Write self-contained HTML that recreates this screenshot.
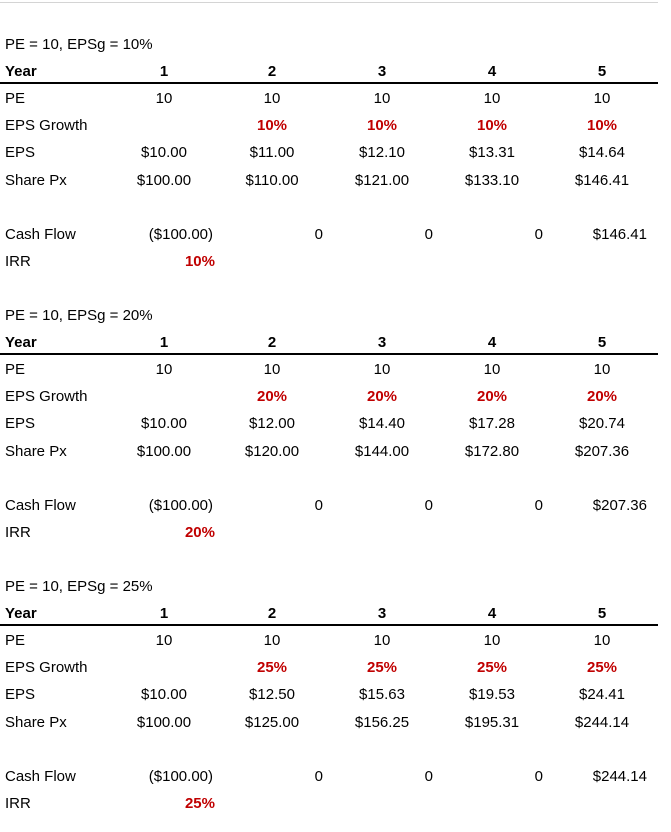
<!DOCTYPE html>
<html><head><meta charset="utf-8"><style>
body{margin:0;width:671px;height:832px;background:#fff;position:relative;overflow:hidden;font-family:"Liberation Sans",sans-serif;font-size:15px;color:#000}
.t{position:absolute;line-height:18px;white-space:nowrap}
.c{transform:translateX(-50%)}
.r{transform:translateX(-100%)}
.b{font-weight:bold}
.red{color:#c00000;font-weight:bold}
.line{position:absolute;left:0;width:658px;height:2px;background:#000}
</style></head><body>
<div style="position:absolute;left:0;top:2px;width:658px;height:1px;background:#d4d4d4"></div>
<div id="root"></div>
<script>
const growthRates=[10,20,25];
const peValue=10;
const startEps=10;
const years=[1,2,3,4,5];
const blockTops=[45,316,587];
const colCenters=[164,272,382,492,602];
const root=document.getElementById('root');
function add(txt,x,y,cls,name){
  const d=document.createElement('div');
  
  
  d.className='t '+cls;d.textContent=txt;d.style.left=x+'px';d.style.top=(y-9)+'px';root.appendChild(d);return d;}
function money(v){return '$'+v.toFixed(2);}
growthRates.forEach((g,bi)=>{
  const y0=blockTops[bi],p=27.1;
  add('PE = '+peValue+', EPSg = '+g+'%',5,y0,'','block-title');
  add('Year',5,y0+p,'b','year-label');
  years.forEach((yr,i)=>add(String(yr),colCenters[i],y0+p,'b c','year-header'));
  const ln=document.createElement('div');
  
  
  ln.className='line';ln.style.top=(y0+p+10)+'px';root.appendChild(ln);
  const labels=['PE','EPS Growth','EPS','Share Px'];
  labels.forEach((l,k)=>add(l,5,y0+p*(2+k),'','row-label'));
  add('Cash Flow',5,y0+p*7,'','row-label');
  add('IRR',5,y0+p*8,'','row-label');
  let eps=startEps;
  years.forEach((yr,i)=>{
    if(i>0) eps=eps*(1+g/100);
    const cx=colCenters[i];
    add(String(peValue),cx,y0+p*2,'c','pe-value');
    if(i>0) add(g+'%',cx,y0+p*3,'red c','eps-growth-value');
    add(money(eps),cx,y0+p*4,'c','eps-value');
    add(money(eps*peValue),cx,y0+p*5,'c','share-price-value');
    let cf;
    if(i===0) cf=add('($'+(startEps*peValue).toFixed(2)+')',213,y0+p*7,'r','cash-flow-value');
    else if(i===4) cf=add(money(eps*peValue),647,y0+p*7,'r','cash-flow-value');
    else cf=add('0',cx+51,y0+p*7,'r','cash-flow-value');
  });
  add(g+'%',215,y0+p*8,'red r','irr-value');
});
</script>
</body></html>
